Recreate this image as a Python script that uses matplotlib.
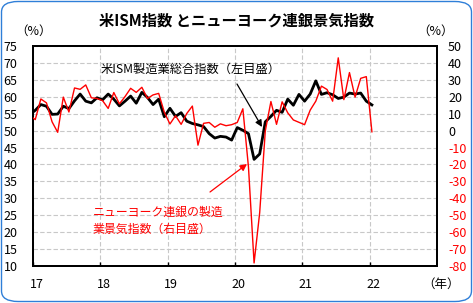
import matplotlib
matplotlib.use("Agg")
import matplotlib.pyplot as plt
import numpy as np
from matplotlib.patches import FancyBboxPatch

plt.rcParams['font.family'] = ['Noto Sans CJK JP', 'DejaVu Sans']

# Monthly data, Dec 2016 .. Jan 2022
ism = [54.7,
       56.0, 57.7, 57.2, 54.8, 54.9, 57.2, 56.5, 58.8, 60.8, 58.7, 58.2, 59.7,
       59.1, 60.8, 59.3, 57.3, 58.7, 60.2, 58.1, 61.3, 59.8, 57.7, 59.3, 54.1,
       56.6, 54.2, 55.3, 52.8, 52.1, 51.7, 51.2, 49.1, 47.8, 48.3, 48.1, 47.2,
       50.9, 50.1, 49.1, 41.5, 43.1, 52.6, 54.2, 56.0, 55.4, 59.3, 57.5, 60.7,
       58.7, 60.8, 64.7, 60.7, 61.2, 60.6, 59.5, 59.9, 61.1, 60.8, 61.1, 58.7,
       57.6]
nyfed = [9.0,
         6.5, 18.7, 16.4, 5.2, -1.0, 19.8, 11.0, 25.2, 24.4, 27.0, 19.4, 19.0,
         17.7, 13.1, 22.5, 15.8, 20.1, 25.0, 22.6, 25.6, 19.0, 21.1, 22.0, 10.9,
         3.9, 8.8, 3.7, 10.1, 14.5, -8.6, 4.3, 4.8, 2.0, 4.0, 2.9, 3.5,
         4.8, 12.9, -21.5, -78.2, -48.5, -0.2, 17.2, 3.7, 17.0, 10.5, 6.3, 4.9,
         3.5, 12.1, 17.4, 26.3, 24.3, 17.4, 43.0, 18.3, 34.3, 19.8, 30.9, 31.9,
         -0.7]
year_labels = ['17', '18', '19', '20', '21', '22']
left_ticks = list(range(10, 80, 5))
right_ticks = list(range(-80, 60, 10))

W, H = 473, 303
fig = plt.figure(figsize=(W / 100, H / 100), dpi=100)
fig.patch.set_facecolor('white')

def fx(px):
    return px / W

def fy(py):
    return 1 - py / H

# rounded border
border = FancyBboxPatch((fx(1.5), fy(301.5)), fx(470), fy(1.5) - fy(301.5),
                        boxstyle="round,pad=0,rounding_size=0.035",
                        transform=fig.transFigure, facecolor='none',
                        edgecolor='#2f7fd8', linewidth=1.0, zorder=10)
fig.patches.append(border)

ax = fig.add_axes([fx(33), fy(266), fx(437) - fx(33), fy(46) - fy(266)])
ax2 = ax.twinx()

x = np.arange(len(ism)) - 1 + 0.4

ax.plot(x, ism, color='black', linewidth=2.0, zorder=3)
ax2.plot(x, nyfed, color='#ff0000', linewidth=1.0, zorder=3)

ax.set_xlim(0, 72)
ax.set_ylim(10, 75)
ax2.set_ylim(-80, 50)

ax.set_yticks(left_ticks)
ax.set_yticklabels([str(v) for v in left_ticks])
ax2.set_yticks(right_ticks)
ax2.set_yticklabels([str(v) for v in right_ticks])
for lab, v in zip(ax2.get_yticklabels(), right_ticks):
    lab.set_color('black' if v >= 0 else '#ff0000')

major_x = [12 * k for k in range(len(year_labels))]
ax.set_xticks(major_x)
ax.set_xticklabels([])
ax.set_xticks([m + 0.6 for m in major_x], minor=True)
ax.set_xticklabels(year_labels, minor=True)

ax.tick_params(axis='x', which='major', direction='in', length=3, width=1)
ax.tick_params(axis='x', which='minor', length=0, pad=9, labelsize=9)
ax.tick_params(axis='y', direction='in', length=0, pad=11, labelsize=9)
ax2.tick_params(axis='y', direction='in', length=0, pad=8, labelsize=9)

ax.grid(True, which='major', color='#c8c8c8', linestyle=(0, (4, 2)), linewidth=0.8)
ax.set_axisbelow(True)

for a in (ax, ax2):
    for s in a.spines.values():
        s.set_linewidth(1.4)
        s.set_color('black')

# title and unit labels
fig.text(fx(236), fy(21), '米ISM指数 とニューヨーク連銀景気指数', ha='center', va='center',
         fontsize=11, fontweight='bold')
fig.text(fx(34), fy(31), '（%）', ha='center', va='center', fontsize=9)
fig.text(fx(436), fy(31), '（%）', ha='center', va='center', fontsize=9)
fig.text(fx(441), fy(284), '（年）', ha='center', va='center', fontsize=9)

# annotations
fig.text(fx(101), fy(69), '米ISM製造業総合指数（左目盛）', ha='left', va='center', fontsize=8.8)
fig.text(fx(93), fy(212), 'ニューヨーク連銀の製造', ha='left', va='center', fontsize=8.6, color='#ff0000')
fig.text(fx(93), fy(229), '業景気指数（右目盛）', ha='left', va='center', fontsize=8.6, color='#ff0000')

ax2.annotate('', xy=(fx(262), fy(127)), xycoords='figure fraction',
             xytext=(fx(237), fy(84)), textcoords='figure fraction',
             arrowprops=dict(arrowstyle='-|>', color='black', lw=0.9,
                             mutation_scale=10, shrinkA=0, shrinkB=0))
ax2.annotate('', xy=(fx(247), fy(164)), xycoords='figure fraction',
             xytext=(fx(210), fy(192)), textcoords='figure fraction',
             arrowprops=dict(arrowstyle='-|>', color='#ff0000', lw=0.9,
                             mutation_scale=10, shrinkA=0, shrinkB=0))

fig.savefig('out.png', dpi=100, facecolor='white')
